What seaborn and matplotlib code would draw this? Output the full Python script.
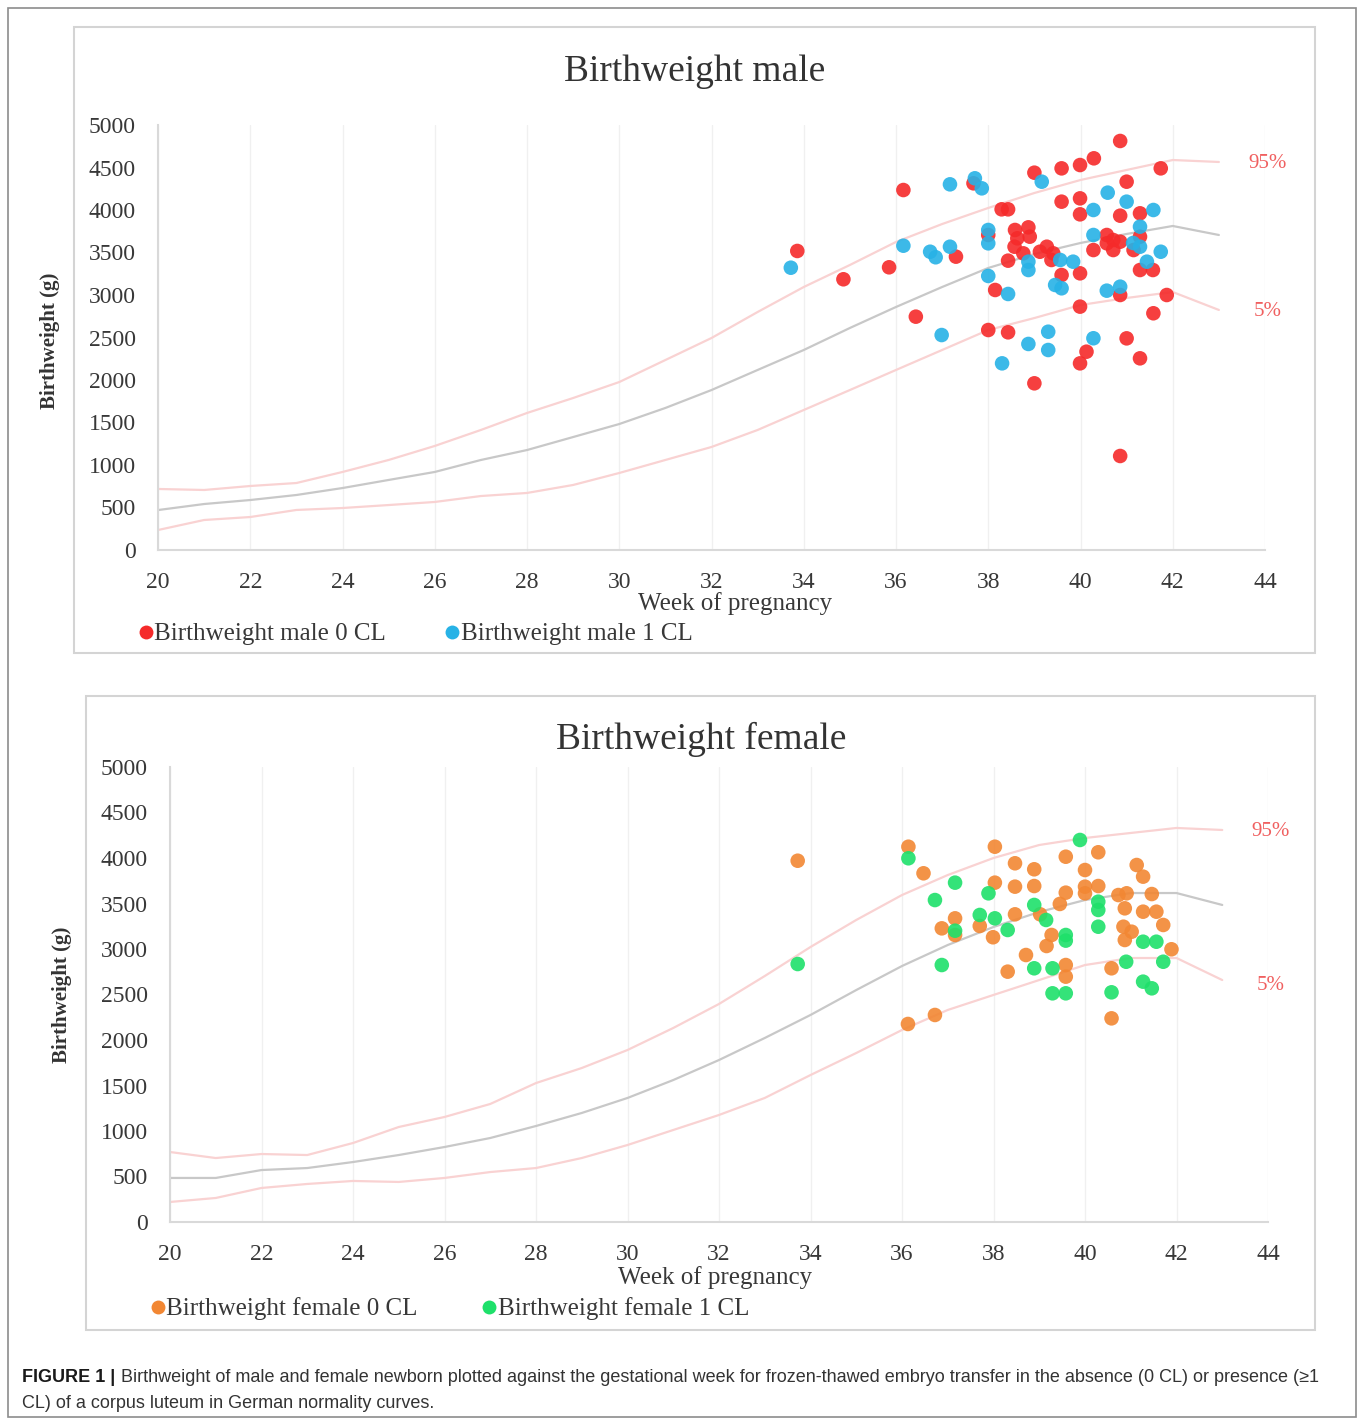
import numpy as np
import pandas as pd
import matplotlib
matplotlib.use("Agg")
import matplotlib.pyplot as plt
from matplotlib.patches import Rectangle
from matplotlib.lines import Line2D
import seaborn as sns

# ---------------- data ----------------
weeks_curve = list(range(20, 44))

male_p95 = [718, 706, 753, 788, 918, 1059, 1224, 1412, 1612, 1788, 1976, 2235,
            2494, 2800, 3094, 3353, 3624, 3835, 4024, 4200, 4353, 4471, 4588, 4565]
male_p50 = [470, 541, 588, 647, 729, 824, 918, 1059, 1176, 1329, 1482, 1671,
            1882, 2118, 2353, 2612, 2859, 3094, 3318, 3482, 3612, 3718, 3812, 3706]
male_p05 = [235, 353, 388, 471, 494, 529, 565, 635, 671, 765, 906, 1059,
            1212, 1412, 1647, 1882, 2118, 2353, 2588, 2729, 2882, 2965, 3035, 2824]

female_p95 = [769, 703, 747, 736, 868, 1044, 1154, 1297, 1527, 1692, 1890, 2132,
              2396, 2703, 3022, 3319, 3593, 3813, 4000, 4143, 4220, 4275, 4330, 4308]
female_p50 = [484, 484, 571, 593, 659, 736, 824, 923, 1055, 1198, 1363, 1560,
              1780, 2022, 2275, 2549, 2813, 3044, 3242, 3407, 3538, 3615, 3615, 3484]
female_p05 = [220, 264, 374, 418, 451, 440, 484, 549, 593, 703, 846, 1011,
              1176, 1363, 1615, 1857, 2110, 2330, 2495, 2659, 2824, 2901, 2901, 2659]

male0_week = [33.86, 34.86, 35.85, 36.16, 36.43, 37.30, 37.68, 38.00, 38.15, 38.29,
              38.43, 38.00, 38.43, 39.00, 38.58, 38.87, 38.90, 38.63, 38.57, 38.43,
              38.76, 39.00, 39.59, 39.99, 40.29, 40.86, 41.74, 41.00, 39.59, 39.99,
              39.99, 40.86, 41.29, 39.27, 39.41, 39.12, 39.37, 39.59, 39.99, 40.28,
              40.57, 40.71, 40.86, 40.71, 40.57, 41.15, 41.29, 41.29, 41.57, 40.86,
              41.87, 39.99, 41.58, 41.00, 40.13, 39.99, 41.29, 40.86]
male0_weight = [3518, 3185, 3326, 4235, 2745, 3451, 4314, 3706, 3059, 4008,
                4008, 2588, 2561, 1961, 3765, 3796, 3686, 3667, 3568, 3404,
                3490, 4439, 4490, 4529, 4608, 4812, 4490, 4333, 4098, 4137,
                3949, 3933, 3961, 3568, 3490, 3509, 3412, 3235, 3255, 3529,
                3706, 3647, 3627, 3529, 3608, 3529, 3686, 3294, 3294, 3000,
                3000, 2863, 2785, 2490, 2333, 2196, 2255, 1106]

male1_week = [33.72, 37.17, 37.71, 37.86, 36.16, 36.74, 36.86, 37.17, 38.00, 38.00,
              38.00, 38.43, 36.99, 38.30, 38.87, 38.87, 38.87, 39.30, 39.30, 39.16,
              39.45, 39.59, 39.56, 39.84, 40.28, 40.28, 40.28, 40.59, 40.57, 40.86,
              41.00, 41.14, 41.29, 41.29, 41.44, 41.58, 41.74]
male1_weight = [3321, 4302, 4373, 4255, 3580, 3509, 3444, 3568, 3765, 3608,
                3224, 3012, 2529, 2196, 3392, 3294, 2424, 2568, 2353, 4333,
                3118, 3079, 3412, 3392, 4000, 3706, 2491, 4204, 3051, 3098,
                4098, 3612, 3568, 3804, 3392, 4000, 3509]

female0_week = [33.72, 36.14, 36.47, 36.87, 37.16, 37.16, 38.03, 38.03, 37.70, 37.99,
                38.47, 38.47, 38.47, 38.89, 38.89, 39.02, 39.27, 39.16, 38.71, 38.31,
                39.58, 39.58, 39.45, 39.58, 39.58, 40.00, 40.00, 40.00, 40.29, 40.29,
                40.58, 40.58, 41.13, 41.27, 40.73, 40.91, 40.87, 41.46, 40.84, 41.02,
                40.87, 41.27, 41.56, 41.71, 41.89, 36.13, 36.72]
female0_weight = [3970, 4124, 3832, 3227, 3337, 3154, 4124, 3729, 3253, 3129,
                  3942, 3685, 3381, 3876, 3692, 3381, 3154, 3033, 2934, 2751,
                  4014, 3619, 3495, 2824, 2696, 3868, 3685, 3612, 3692, 4063,
                  2788, 2238, 3923, 3795, 3593, 3612, 3447, 3604, 3245, 3190,
                  3099, 3410, 3410, 3264, 2997, 2176, 2275]

female1_week = [33.72, 36.14, 36.72, 37.16, 37.16, 36.87, 37.89, 37.70, 38.03, 38.31,
                38.89, 39.15, 39.58, 39.58, 38.89, 39.29, 39.29, 39.58, 39.89, 40.29,
                40.29, 40.29, 40.58, 40.90, 41.27, 41.56, 41.71, 41.27, 41.46]
female1_weight = [2835, 3997, 3538, 3729, 3201, 2824, 3612, 3374, 3337, 3209,
                  3484, 3319, 3154, 3092, 2788, 2788, 2513, 2513, 4198, 3520,
                  3429, 3245, 2524, 2860, 3080, 3080, 2860, 2641, 2568]

x_ticks = list(range(20, 45, 2))
y_ticks = list(range(0, 5001, 500))

# ---------------- style ----------------
sns.set_theme(style="white")
plt.rcParams["font.family"] = ["Liberation Serif", "DejaVu Serif"]

RED = "#F52A2A"
BLUE = "#27B2E6"
ORANGE = "#F28733"
GREEN = "#1EE06A"
PINK = "#F9D2D2"
GRAY = "#C8C8C8"
LABEL_RED = "#F06060"
TXT = "#383838"

W, H = 1360, 1421
fig = plt.figure(figsize=(W / 100, H / 100), dpi=100)

def fx(px):
    return px / W

def fy(py):
    return 1 - py / H

# outer frame and panel frames
fig.patches.append(Rectangle((fx(8), fy(1417)), fx(1348), 1409 / H, transform=fig.transFigure,
                             fill=False, edgecolor="#8C8C8C", linewidth=1.2))
fig.patches.append(Rectangle((fx(74), fy(653)), fx(1241), 626 / H, transform=fig.transFigure,
                             fill=False, edgecolor="#D4D4D4", linewidth=1.5))
fig.patches.append(Rectangle((fx(86), fy(1330)), fx(1229), 634 / H, transform=fig.transFigure,
                             fill=False, edgecolor="#D4D4D4", linewidth=1.5))


def panel(rect, p95, p50, p05, w0, y0, w1, y1, c0, c1, title, lab0, lab1,
          title_xy, ylab_xy, xlab_xy, leg_xy, lab95_y, lab5_y, colsp):
    ax = fig.add_axes(rect)
    cdf = pd.DataFrame({"week": weeks_curve, "p95": p95, "p50": p50, "p05": p05})
    sns.lineplot(data=cdf, x="week", y="p95", ax=ax, color=PINK, linewidth=1.6)
    sns.lineplot(data=cdf, x="week", y="p05", ax=ax, color=PINK, linewidth=1.6)
    sns.lineplot(data=cdf, x="week", y="p50", ax=ax, color=GRAY, linewidth=1.6)
    d0 = pd.DataFrame({"week": w0, "weight": y0})
    d1 = pd.DataFrame({"week": w1, "weight": y1})
    sns.scatterplot(data=d0, x="week", y="weight", ax=ax, color=c0, s=110,
                    edgecolor="none", alpha=0.9, zorder=3)
    sns.scatterplot(data=d1, x="week", y="weight", ax=ax, color=c1, s=110,
                    edgecolor="none", alpha=0.9, zorder=4)
    ax.set_xlim(20, 44)
    ax.set_ylim(0, 5000)
    ax.set_xticks(x_ticks)
    ax.set_yticks(y_ticks)
    ax.set_xticklabels([str(t) for t in x_ticks], fontsize=17, color=TXT)
    ax.set_yticklabels([str(t) for t in y_ticks], fontsize=17, color=TXT)
    ax.tick_params(axis="x", length=0, pad=16)
    ax.tick_params(axis="y", length=0, pad=16)
    ax.grid(axis="x", color="#F0F0F0", linewidth=1.0)
    ax.grid(axis="y", visible=False)
    for s in ["top", "right"]:
        ax.spines[s].set_visible(False)
    for s in ["left", "bottom"]:
        ax.spines[s].set_color("#D9D9D9")
        ax.spines[s].set_linewidth(1.5)
    ax.set_xlabel("")
    ax.set_ylabel("")
    ax.set_facecolor("white")
    # labels
    fig.text(fx(title_xy[0]), fy(title_xy[1]), title, ha="center", va="center",
             fontsize=27, color="#333333")
    fig.text(fx(ylab_xy[0]), fy(ylab_xy[1]), "Birthweight (g)", ha="center", va="center",
             rotation=90, fontsize=15, fontweight="bold", color="#333333")
    fig.text(fx(xlab_xy[0]), fy(xlab_xy[1]), "Week of pregnancy", ha="center", va="center",
             fontsize=18, color=TXT)
    ax.text(44.05, lab95_y, "95%", ha="center", va="center", fontsize=15, color=LABEL_RED)
    ax.text(44.05, lab5_y, "5%", ha="center", va="center", fontsize=15, color=LABEL_RED)
    handles = [Line2D([], [], marker="o", linestyle="none", markersize=10,
                      markerfacecolor=c0, markeredgecolor="none"),
               Line2D([], [], marker="o", linestyle="none", markersize=10,
                      markerfacecolor=c1, markeredgecolor="none")]
    fig.legend(handles, [lab0, lab1], loc="center left",
               bbox_to_anchor=(fx(leg_xy[0]), fy(leg_xy[1])), ncol=2, frameon=False,
               fontsize=18, handlelength=0.6, handletextpad=0.05, columnspacing=colsp,
               borderpad=0, borderaxespad=0, labelcolor=TXT)
    return ax


panel([fx(158), fy(550), fx(1265 - 158), (550 - 125) / H],
      male_p95, male_p50, male_p05, male0_week, male0_weight, male1_week, male1_weight,
      RED, BLUE, "Birthweight male", "Birthweight male 0 CL", "Birthweight male 1 CL",
      (695, 72), (50, 341), (735, 604), (138, 634), 4550, 2800, 2.35)

panel([fx(170), fy(1222), fx(1268 - 170), (1222 - 767) / H],
      female_p95, female_p50, female_p05, female0_week, female0_weight, female1_week,
      female1_weight, ORANGE, GREEN, "Birthweight female", "Birthweight female 0 CL",
      "Birthweight female 1 CL", (701, 739), (62, 995), (715, 1278), (150, 1309), 4290, 2600, 2.55)

# caption
cap_font = ["Liberation Sans", "DejaVu Sans"]
t1 = fig.text(fx(22), fy(1378), "FIGURE 1 |", ha="left", va="center", fontsize=13,
              fontweight="bold", family=cap_font, color="#1A1A1A")
fig.canvas.draw()
bb = t1.get_window_extent()
fig.text((bb.x1 + 6) / W, fy(1378),
         "Birthweight of male and female newborn plotted against the gestational week for "
         "frozen-thawed embryo transfer in the absence (0 CL) or presence (\u22651",
         ha="left", va="center", fontsize=13, family=cap_font, color="#333333")
fig.text(fx(22), fy(1403), "CL) of a corpus luteum in German normality curves.",
         ha="left", va="center", fontsize=13, family=cap_font, color="#333333")

fig.savefig("out.png", dpi=100, facecolor="white")
